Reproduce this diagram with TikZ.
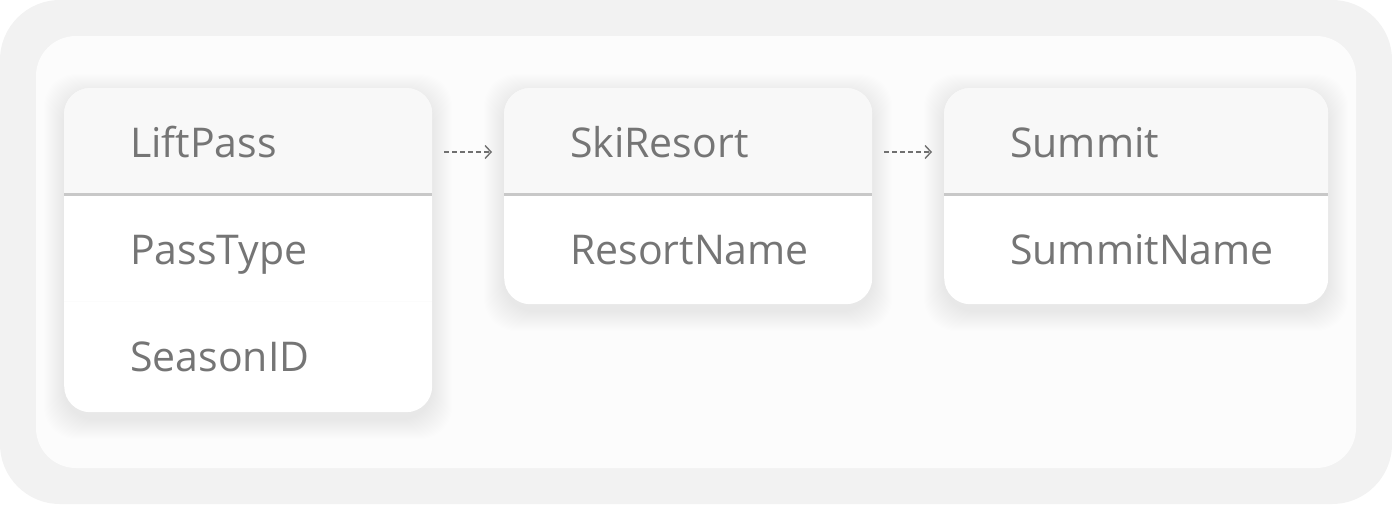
\documentclass[tikz,border=0pt]{standalone}
\usepackage{fontspec}
\setmainfont{Open Sans}
\usetikzlibrary{arrows.meta,calc}

\definecolor{outerbg}{HTML}{F2F2F2}
\definecolor{panelbg}{HTML}{FCFCFC}
\definecolor{headfill}{HTML}{F8F8F8}
\definecolor{rulegray}{HTML}{C8C8C8}
\definecolor{rowline}{HTML}{FCFCFC}
\definecolor{textgray}{HTML}{757575}
\definecolor{arrowgray}{HTML}{707070}

\tikzset{
	tablebox/.style={fill=white, rounded corners=26pt, anchor=north west, inner sep=0pt},
	divider/.style={draw=rulegray, line width=3pt},
	field/.style={anchor=base west, inner sep=0pt, text=textgray, font=\fontsize{41}{49}\selectfont},
	link/.style={draw=arrowgray, line width=1.4pt, dash pattern=on 5pt off 3pt,
		-{Straight Barb[length=6pt,width=13pt,line width=1.4pt]}}
}

\begin{document}
\begin{tikzpicture}[x=1pt,y=-1pt]
	\useasboundingbox (0,0) rectangle (1392,504);
	
	% backgrounds
	\fill[outerbg, rounded corners=60pt] (0,0) rectangle (1392,504);
	\fill[panelbg, rounded corners=40pt] (36,36) rectangle (1356,468);
	
	% tables
	\foreach \name/\x/\w/\h in {liftpass/64/368/324, skiresort/504/368/216, summit/944/384/216} {
		\foreach \s in {1,...,20}
			\fill[black, opacity=0.0028, rounded corners=32pt] (\x-\s,88-\s+6) rectangle (\x+\w+\s,88+\h+\s+7);
		\node[tablebox, minimum width=\w pt, minimum height=\h pt] (\name) at (\x,88) {};
		\begin{scope}
			\clip[rounded corners=26pt] (\name.north west) rectangle (\name.south east);
			\fill[headfill] (\name.north west) rectangle ($(\name.north east)+(0,106)$);
		\end{scope}
		\draw[divider] ($(\name.north west)+(0,106)$) -- ($(\name.north east)+(0,106)$);
	}
	\draw[rowline, line width=1pt] ($(liftpass.north west)+(0,213)$) -- ($(liftpass.north east)+(0,213)$);
	
	% labels
	\node[field] (liftpassname) at ($(liftpass.north west)+(66,69)$) {LiftPass};
	\node[field] (passtype) at ($(liftpass.north west)+(66,176)$) {PassType};
	\node[field] (seasonid) at ($(liftpass.north west)+(66,283)$) {SeasonID};
	
	\node[field] (skiresortname) at ($(skiresort.north west)+(66,69)$) {SkiResort};
	\node[field] (resortname) at ($(skiresort.north west)+(66,176)$) {ResortName};
	
	\node[field] (summitname) at ($(summit.north west)+(66,69)$) {Summit};
	\node[field] (summitfield) at ($(summit.north west)+(66,176)$) {SummitName};
	
	% links
	\draw[link] ($(liftpass.north east)+(12,64)$) -- ($(skiresort.north west)+(-12,64)$);
	\draw[link] ($(skiresort.north east)+(12,64)$) -- ($(summit.north west)+(-12,64)$);
\end{tikzpicture}
\end{document}
